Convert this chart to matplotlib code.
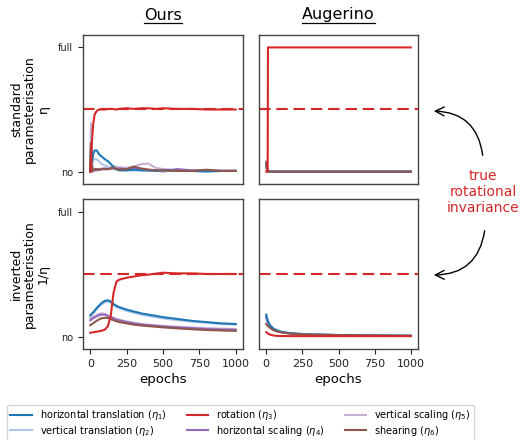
import matplotlib
matplotlib.use("Agg")
import matplotlib.pyplot as plt
from matplotlib.lines import Line2D

# ---------------- data ----------------
series_names = ["horizontal translation ($\\eta_1$)", "vertical translation ($\\eta_2$)",
                "rotation ($\\eta_3$)", "horizontal scaling ($\\eta_4$)",
                "vertical scaling ($\\eta_5$)", "shearing ($\\eta_6$)"]
series_colors = ["#1f77b4", "#aec7e8", "#d62728", "#9467bd", "#c5b0d5", "#8c564b"]

true_invariance = 0.5
ytick_vals = [0, 1]
ytick_labels = ["no", "full"]
xtick_vals = [0, 250, 500, 750, 1000]

# Ours, standard parameterisation
ep_ours_std = [0, 5, 10, 15, 20, 30, 45, 60, 80, 100, 125, 150, 175, 200, 250, 300, 350, 400, 450, 500, 600, 700, 800, 900, 1000]
ours_std_htrans = [0.0, 0.2, 0.08, 0.1, 0.14, 0.17, 0.17, 0.14, 0.12, 0.1, 0.08, 0.05, 0.02, 0.01, 0.01, 0.015, 0.01, 0.01, 0.005, 0.01, 0.005, 0.005, 0.0, 0.005, 0.005]
ours_std_vtrans = [0.0, 0.3, 0.12, 0.08, 0.09, 0.1, 0.1, 0.08, 0.06, 0.05, 0.04, 0.03, 0.02, 0.01, 0.01, 0.01, 0.01, 0.005, 0.005, 0.005, 0.005, 0.005, 0.005, 0.005, 0.005]
ours_std_rot = [0.0, 0.12, 0.22, 0.3, 0.38, 0.46, 0.49, 0.5, 0.5, 0.5, 0.505, 0.505, 0.5, 0.505, 0.51, 0.505, 0.51, 0.51, 0.505, 0.51, 0.505, 0.505, 0.5, 0.5, 0.5]
ours_std_hscale = [0.0, 0.05, 0.02, 0.01, 0.01, 0.01, 0.01, 0.015, 0.02, 0.02, 0.02, 0.025, 0.02, 0.025, 0.02, 0.03, 0.02, 0.015, 0.01, 0.0, 0.02, 0.01, 0.01, 0.005, 0.005]
ours_std_vscale = [0.0, 0.39, 0.2, 0.06, 0.03, 0.02, 0.02, 0.02, 0.025, 0.03, 0.03, 0.04, 0.04, 0.035, 0.03, 0.04, 0.06, 0.065, 0.03, 0.02, 0.015, 0.01, 0.01, 0.01, 0.01]
ours_std_shear = [0.0, 0.23, 0.05, 0.0, 0.01, 0.02, 0.02, 0.015, 0.02, 0.02, 0.02, 0.03, 0.025, 0.015, 0.02, 0.04, 0.025, 0.015, 0.01, 0.01, 0.005, 0.005, 0.015, 0.005, 0.005]

# Augerino, standard parameterisation
ep_aug_std = [0, 5, 10, 12, 15, 20, 50, 100, 200, 300, 400, 500, 600, 700, 800, 900, 1000]
aug_std_htrans = [0.06, 0.02, 0.0, 0.0, 0.0, 0.0, 0.0, 0.0, 0.0, 0.0, 0.0, 0.0, 0.0, 0.0, 0.0, 0.0, 0.0]
aug_std_vtrans = [0.06, 0.02, 0.0, 0.0, 0.0, 0.0, 0.0, 0.0, 0.0, 0.0, 0.0, 0.0, 0.0, 0.0, 0.0, 0.0, 0.0]
aug_std_rot = [0.0, 0.0, 0.0, 1.0, 1.0, 1.0, 1.0, 1.0, 1.0, 1.0, 1.0, 1.0, 1.0, 1.0, 1.0, 1.0, 1.0]
aug_std_hscale = [0.05, 0.02, 0.0, 0.0, 0.0, 0.0, 0.0, 0.0, 0.0, 0.0, 0.0, 0.0, 0.0, 0.0, 0.0, 0.0, 0.0]
aug_std_vscale = [0.06, 0.02, 0.0, 0.0, 0.0, 0.0, 0.0, 0.0, 0.0, 0.0, 0.0, 0.0, 0.0, 0.0, 0.0, 0.0, 0.0]
aug_std_shear = [0.08, 0.02, 0.0, 0.0, 0.0, 0.0, 0.0, 0.0, 0.0, 0.0, 0.0, 0.0, 0.0, 0.0, 0.0, 0.0, 0.0]

# Ours, inverted parameterisation
ep_ours_inv = [0, 25, 50, 75, 100, 120, 140, 160, 180, 200, 250, 300, 350, 400, 500, 600, 700, 800, 900, 1000]
ours_inv_htrans = [0.17, 0.2, 0.235, 0.265, 0.285, 0.29, 0.28, 0.26, 0.245, 0.235, 0.215, 0.2, 0.185, 0.175, 0.155, 0.14, 0.125, 0.115, 0.105, 0.1]
ours_inv_vtrans = [0.16, 0.19, 0.225, 0.255, 0.275, 0.28, 0.27, 0.25, 0.235, 0.225, 0.205, 0.19, 0.175, 0.165, 0.145, 0.13, 0.12, 0.11, 0.1, 0.095]
ours_inv_rot = [0.03, 0.035, 0.04, 0.045, 0.055, 0.08, 0.16, 0.35, 0.44, 0.455, 0.47, 0.48, 0.49, 0.495, 0.51, 0.505, 0.505, 0.5, 0.5, 0.5]
ours_inv_hscale = [0.13, 0.15, 0.165, 0.175, 0.175, 0.165, 0.155, 0.145, 0.135, 0.128, 0.115, 0.105, 0.095, 0.09, 0.08, 0.072, 0.066, 0.06, 0.056, 0.052]
ours_inv_vscale = [0.145, 0.16, 0.175, 0.185, 0.18, 0.17, 0.16, 0.15, 0.14, 0.135, 0.12, 0.11, 0.1, 0.095, 0.085, 0.078, 0.072, 0.067, 0.063, 0.06]
ours_inv_shear = [0.09, 0.11, 0.13, 0.145, 0.15, 0.148, 0.14, 0.13, 0.122, 0.115, 0.105, 0.095, 0.088, 0.083, 0.073, 0.065, 0.058, 0.052, 0.048, 0.045]

# Augerino, inverted parameterisation
ep_aug_inv = [0, 10, 25, 50, 75, 100, 150, 200, 250, 300, 400, 500, 600, 700, 800, 900, 1000]
aug_inv_htrans = [0.17, 0.125, 0.09, 0.062, 0.048, 0.038, 0.028, 0.023, 0.019, 0.017, 0.014, 0.012, 0.01, 0.009, 0.008, 0.007, 0.006]
aug_inv_vtrans = [0.18, 0.13, 0.095, 0.065, 0.05, 0.04, 0.03, 0.025, 0.02, 0.018, 0.015, 0.012, 0.01, 0.009, 0.008, 0.007, 0.006]
aug_inv_rot = [0.035, 0.025, 0.015, 0.008, 0.005, 0.004, 0.003, 0.003, 0.003, 0.003, 0.003, 0.003, 0.003, 0.003, 0.003, 0.003, 0.003]
aug_inv_hscale = [0.15, 0.115, 0.085, 0.058, 0.045, 0.036, 0.027, 0.022, 0.018, 0.016, 0.013, 0.011, 0.009, 0.008, 0.007, 0.006, 0.005]
aug_inv_vscale = [0.17, 0.125, 0.092, 0.063, 0.049, 0.039, 0.029, 0.024, 0.02, 0.017, 0.014, 0.012, 0.01, 0.009, 0.008, 0.007, 0.006]
aug_inv_shear = [0.1, 0.085, 0.07, 0.05, 0.04, 0.033, 0.025, 0.02, 0.017, 0.015, 0.013, 0.011, 0.009, 0.008, 0.007, 0.006, 0.005]

panels = [
    (ep_ours_std, [ours_std_htrans, ours_std_vtrans, ours_std_rot, ours_std_hscale, ours_std_vscale, ours_std_shear]),
    (ep_aug_std, [aug_std_htrans, aug_std_vtrans, aug_std_rot, aug_std_hscale, aug_std_vscale, aug_std_shear]),
    (ep_ours_inv, [ours_inv_htrans, ours_inv_vtrans, ours_inv_rot, ours_inv_hscale, ours_inv_vscale, ours_inv_shear]),
    (ep_aug_inv, [aug_inv_htrans, aug_inv_vtrans, aug_inv_rot, aug_inv_hscale, aug_inv_vscale, aug_inv_shear]),
]
col_titles = ["Ours", "Augerino"]
row_labels = ["standard\nparameterisation\n\u03b7", "inverted\nparameterisation\n1/\u03b7"]
annotation_text = "true\nrotational\ninvariance"

# ---------------- figure ----------------
W, H = 520, 440
fig = plt.figure(figsize=(W / 100, H / 100), dpi=100)

def px_rect(x0, y0, x1, y1):
    return [x0 / W, 1 - y1 / H, (x1 - x0) / W, (y1 - y0) / H]

rects = [px_rect(83, 35, 243, 184), px_rect(259, 35, 418, 184),
         px_rect(83, 199, 243, 349), px_rect(259, 199, 418, 349)]

# draw order: lighter series first, rotation on top
draw_order = [4, 3, 1, 0, 5, 2]
axes = []
for i, (rect, (ep, vals)) in enumerate(zip(rects, panels)):
    ax = fig.add_axes(rect)
    axes.append(ax)
    ax.axhline(true_invariance, color="#d62728", ls="--", lw=1.5, zorder=1, dashes=(5.5, 2.8))
    for k in draw_order:
        ax.plot(ep, vals[k], color=series_colors[k], lw=1.5, zorder=2 + (k == 2))
    ax.set_xlim(-50, 1050)
    ax.set_ylim(-0.1, 1.1)
    for s in ax.spines.values():
        s.set_color("#444444")
        s.set_linewidth(1.0)
    ax.tick_params(colors="#222222", width=0.8, length=3.5)
    ax.set_xticks(xtick_vals)
    ax.set_yticks(ytick_vals)
    ax.set_yticklabels(ytick_labels, fontsize=7)
    ax.tick_params(axis="x", labelsize=8)
    row, col = divmod(i, 2)
    if row == 0:
        ax.tick_params(axis="x", bottom=False, labelbottom=False)
    else:
        ax.set_xlabel("epochs", fontsize=9.5, labelpad=3)
    if col == 1:
        ax.tick_params(axis="y", left=False, labelleft=False)
    else:
        ax.set_ylabel(row_labels[row], fontsize=9, labelpad=6, linespacing=1.05)

# column titles with underline
titles = []
for j, ax in enumerate(axes[:2]):
    t = fig.text((rects[j][0] + rects[j][2] / 2), 1 - 15 / H, col_titles[j], fontsize=11.5,
                 ha="center", va="center")
    titles.append(t)
fig.canvas.draw()
renderer = fig.canvas.get_renderer()
for t in titles:
    bb = t.get_window_extent(renderer)
    yline = (bb.y0 - 1) / H
    fig.add_artist(Line2D([bb.x0 / W, bb.x1 / W], [yline, yline], color="black", lw=0.9,
                          transform=fig.transFigure))

# annotation text and arrows
fig.text(483 / W, 1 - 192 / H, annotation_text, color="#d62728", fontsize=10,
         ha="center", va="center", linespacing=1.15)
fig.add_artist(matplotlib.patches.FancyArrowPatch(
    (483 / W, 1 - 158 / H), (431 / W, 1 - 111 / H), transform=fig.transFigure,
    arrowstyle="->", mutation_scale=16, connectionstyle="arc3,rad=0.45", color="black", lw=1.0))
fig.add_artist(matplotlib.patches.FancyArrowPatch(
    (485 / W, 1 - 228 / H), (431 / W, 1 - 275 / H), transform=fig.transFigure,
    arrowstyle="->", mutation_scale=16, connectionstyle="arc3,rad=-0.45", color="black", lw=1.0))

# legend
handles = [Line2D([], [], color=c, lw=1.5) for c in series_colors]
fig.legend(handles, series_names, loc="upper left", bbox_to_anchor=(7 / W, 1 - 405 / H),
           ncol=3, fontsize=7.0, columnspacing=2.1, handlelength=2.2, handletextpad=0.8,
           labelspacing=0.15, borderpad=0.35, frameon=True,
           fancybox=True, borderaxespad=0.0)

fig.savefig("out.png", dpi=100)
